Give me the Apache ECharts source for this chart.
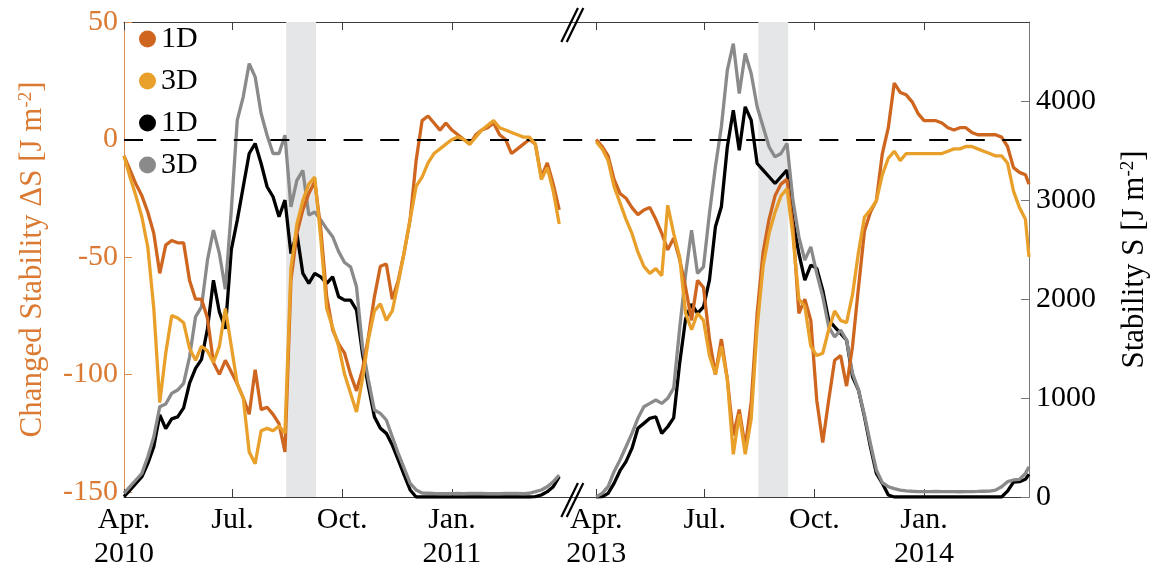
<!DOCTYPE html>
<html>
<head>
<meta charset="utf-8">
<script src="https://cdn.jsdelivr.net/npm/echarts@6/dist/echarts.min.js"></script>
<style>html,body{margin:0;padding:0;background:#fff}#chart{width:1158px;height:573px}</style>
</head>
<body>
<div id="chart"></div>
<script>
// ---------- data (days counted from 1 April of each panel's first year) ----------
const days2010 = [0,5,10,15,20,25,30,35,40,45,50,55,60,65,70,75,80,85,90,95,100,105,110,115,120,125,130,135,140,145,150,155,160,165,170,175,180,185,190,195,200,205,210,215,220,225,230,235,240,245,250,255,260,265,270,275,280,285,290,295,300,305,310,315,320,325,330,335,340,345,350,355,360,365];
const days2013 = [0,5,10,15,20,25,30,35,40,45,50,55,60,65,70,75,80,85,90,95,100,105,110,115,120,125,130,135,140,145,150,155,160,165,170,175,180,185,190,195,200,205,210,215,220,225,230,235,240,245,250,255,260,265,270,275,280,285,290,295,300,305,310,315,320,325,330,335,340,345,350,355,360,363];

// Changed stability dS [J m-2] (left axis)
const dS1D_2010 = [-7,-13,-19,-24,-31,-40,-57,-45,-43,-44, -44,-60,-68,-68,-76,-95,-100,-94,-99,-104, -110,-117,-98,-115,-114,-117,-121,-133,-60,-40, -30,-23,-18,-38,-67,-81,-87,-91,-100,-107, -98,-84,-67,-54,-53,-68,-60,-48,-34,-9, 8,10,7,4,7,4,2,0,-2,2, 4,5,7,2,0,-6,-4,-2,0,-2, -16,-10,-19,-30];
const dS3D_2010 = [-7,-16,-24,-33,-46,-72,-112,-91,-75,-76, -78,-89,-94,-88,-90,-95,-88,-72,-88,-104, -110,-133,-138,-124,-123,-124,-122,-125,-55,-36, -26,-19,-16,-42,-72,-80,-88,-100,-108,-116, -102,-85,-73,-70,-77,-73,-61,-48,-34,-20, -16,-10,-6,-4,-2,0,1,0,-2,1, 4,6,8,5,4,3,2,1,1,-2, -17,-12,-22,-36];
const dS1D_2013 = [0,-3,-7,-17,-23,-25,-29,-32,-30,-29, -34,-40,-47,-42,-51,-63,-77,-60,-63,-85, -100,-85,-102,-126,-115,-131,-112,-74,-48,-34, -24,-19,-17,-37,-74,-68,-77,-111,-129,-111, -94,-92,-105,-88,-63,-39,-31,-26,-6,5, 24,20,19,16,11,8,8,8,7,5, 4,5,5,3,2,2,2,2,1,-3, -12,-14,-15,-19];
const dS3D_2013 = [-1,-4,-9,-20,-27,-34,-40,-48,-54,-57, -55,-58,-28,-40,-50,-74,-81,-74,-77,-92, -100,-88,-102,-134,-117,-134,-119,-80,-54,-40, -31,-24,-21,-41,-68,-71,-88,-92,-91,-81, -73,-77,-78,-66,-48,-33,-30,-26,-15,-8, -5,-9,-6,-6,-6,-6,-6,-6,-6,-5, -4,-4,-3,-3,-4,-5,-6,-7,-7,-10, -22,-29,-34,-50];

// Stability S [J m-2] (right axis)
const S1D_2010 = [5,70,138,205,340,508,830,690,790,810, 900,1150,1300,1390,1700,2190,1870,1700,2500,2798, 3135,3471,3572,3370,3135,3034,2832,3000,2461,2663, 2259,2158,2259,2225,2158,2225,2024,1990,1990,1889, 1451,1114,811,694,643,525,374,222,71,0, 0,0,0,0,0,0,0,0,0,0, 0,0,0,0,0,0,0,0,0,3, 20,54,104,205];
const S3D_2010 = [37,104,172,239,407,609,912,940,1047,1081, 1148,1417,1821,1922,2394,2697,2461,2100,2900,3808, 4044,4380,4246,3875,3656,3471,3471,3656,2932,3200, 3300,2850,2880,2800,2710,2630,2480,2370,2326,2124, 1518,1182,879,845,778,609,441,289,138,71, 40,38,36,35,34,35,36,35,36,37, 36,35,34,35,36,37,36,35,38,54, 71,104,155,222];
const S1D_2013 = [0,3,37,138,266,357,491,694,744,795, 811,643,710,800,1350,1800,1950,1855,1922,2192, 2730,2933,3539,3909,3505,3943,3808,3370,3303,3236, 3168,3236,3303,2798,2461,2192,2343,2310,2091,1788, 1720,1653,1586,1215,1081,811,508,239,138,20, 0,0,0,0,0,0,0,0,0,0, 0,0,0,0,0,0,0,0,0,60, 151,155,180,230];
const S3D_2013 = [3,37,104,256,374,508,643,795,912,946, 980,946,997,1100,1700,2250,2697,2259,2326,2865, 3337,3741,4313,4582,4077,4481,4279,3943,3741,3539, 3437,3471,3572,3000,2629,2394,2528,2259,2024,1720, 1619,1687,1586,1249,1081,828,542,273,145,104, 84,70,62,58,55,54,55,56,55,54, 54,53,54,55,56,58,60,70,104,155, 172,178,239,306];

// shaded periods (days from 1 April), same in both years
const shadedPeriods = [[136, 161]];
// month ticks (days from 1 April) and their labels
const monthTickDays = [0, 91, 183, 275];
const tickLabels2010 = ['Apr.\n2010', 'Jul.', 'Oct.', 'Jan.\n2011'];
const tickLabels2013 = ['Apr.\n2013', 'Jul.', 'Oct.', 'Jan.\n2014'];
const leftTicks = [-150, -100, -50, 0, 50];
const rightTicks = [0, 1000, 2000, 3000, 4000];

// ---------- layout ----------
const PANEL2 = 396;      // axis position where the 2013 panel starts
const XMAX = 759;
const BREAK_AT = 376;
const FONT = '"Liberation Serif", "Times New Roman", serif';
const C1D = '#CF661F', C3D = '#E9A02A', CBK = '#000000', CGR = '#8A8A8A';
const ORANGE_TXT = '#DA7A33', ORANGE_AX = '#E08C4C';
const TICK_FS = 30, NAME_FS = 31;

const tickPos = monthTickDays.concat(monthTickDays.map(d => d + PANEL2));
const tickLab = tickLabels2010.concat(tickLabels2013);
const labelFor = v => { const i = tickPos.indexOf(v); return i >= 0 ? tickLab[i] : ''; };
const pairs = (days, vals, off) => days.map((d, i) => [d + off, vals[i]]);

function line(name, color, yIdx, days, vals, off, z) {
  return { name, type: 'line', xAxisIndex: 0, yAxisIndex: yIdx, data: pairs(days, vals, off),
    symbol: 'none', showSymbol: false, lineStyle: { color, width: 3.3 }, itemStyle: { color },
    z, silent: true, animation: false };
}

const bands = [];
shadedPeriods.forEach(([a, b]) => { bands.push([{ xAxis: a }, { xAxis: b }]); bands.push([{ xAxis: a + PANEL2 }, { xAxis: b + PANEL2 }]); });

const xAxisBase = (pos, showLabel) => ({
  type: 'value', min: 0, max: XMAX, position: pos,
  axisLine: { show: true, onZero: false, lineStyle: { color: '#3c3c3c', width: 1 } },
  axisTick: { show: true, inside: true, length: 8, customValues: tickPos, lineStyle: { color: '#3c3c3c', width: 1 } },
  axisLabel: { show: showLabel, customValues: tickPos, formatter: labelFor, fontFamily: FONT, fontSize: TICK_FS,
    color: '#000', lineHeight: 34, margin: 6 },
  splitLine: { show: false }
});

const option = {
  animation: false,
  backgroundColor: '#fff',
  grid: { left: 124, right: 129, top: 22, bottom: 76, containLabel: false, outerBoundsMode: 'none' },
  legend: {
    data: ['1D ΔS', '3D ΔS', '1D S', '3D S'],
    formatter: n => n.split(' ')[0],
    orient: 'vertical', left: 134, top: 19, icon: 'circle', itemWidth: 17, itemHeight: 17, itemGap: 12,
    textStyle: { fontFamily: FONT, fontSize: 30, lineHeight: 30, color: '#000' },
    selectedMode: false
  },
  xAxis: [xAxisBase('bottom', true), xAxisBase('top', false)],
  yAxis: [
    { type: 'value', min: -152.2, max: 50, position: 'left',
      axisLine: { show: true, onZero: false, lineStyle: { color: ORANGE_AX, width: 1 } },
      axisTick: { show: true, inside: true, length: 8, customValues: leftTicks, lineStyle: { color: ORANGE_AX } },
      axisLabel: { customValues: leftTicks, formatter: v => String(v), color: ORANGE_TXT, fontFamily: FONT, fontSize: TICK_FS, margin: 6 },
      splitLine: { show: false },
      name: 'Changed Stability ΔS [J m{sup|-2}]', nameLocation: 'middle', nameRotate: 90, nameGap: 76,
      nameTextStyle: { fontFamily: FONT, fontSize: NAME_FS, color: ORANGE_TXT,
        rich: { sup: { fontFamily: FONT, fontSize: 19, color: ORANGE_TXT, verticalAlign: 'top' } } } },
    { type: 'value', min: 0, max: 4800, position: 'right',
      axisLine: { show: true, onZero: false, lineStyle: { color: '#777', width: 1 } },
      axisTick: { show: true, inside: true, length: 8, customValues: rightTicks, lineStyle: { color: '#777' } },
      axisLabel: { customValues: rightTicks, formatter: v => String(v), color: '#000', fontFamily: FONT, fontSize: TICK_FS, margin: 7 },
      splitLine: { show: false },
      name: 'Stability S [J m{sup|-2}]', nameLocation: 'middle', nameRotate: 90, nameGap: 90,
      nameTextStyle: { fontFamily: FONT, fontSize: NAME_FS, color: '#000',
        rich: { sup: { fontFamily: FONT, fontSize: 19, color: '#000', verticalAlign: 'top' } } } }
  ],
  series: [
    { name: 'bands', type: 'line', xAxisIndex: 0, yAxisIndex: 0, data: [], z: 1, silent: true,
      markArea: { silent: true, itemStyle: { color: '#E4E6E7', opacity: 1 }, label: { show: false }, data: bands } },
    line('1D S', CBK, 1, days2010, S1D_2010, 0, 2),
    line('1D S', CBK, 1, days2013, S1D_2013, PANEL2, 2),
    line('3D S', CGR, 1, days2010, S3D_2010, 0, 3),
    line('3D S', CGR, 1, days2013, S3D_2013, PANEL2, 3),
    line('1D ΔS', C1D, 0, days2010, dS1D_2010, 0, 4),
    line('1D ΔS', C1D, 0, days2013, dS1D_2013, PANEL2, 4),
    line('3D ΔS', C3D, 0, days2010, dS3D_2010, 0, 5),
    line('3D ΔS', C3D, 0, days2013, dS3D_2013, PANEL2, 5),
    { name: 'zero', type: 'line', xAxisIndex: 0, yAxisIndex: 0, data: [], z: 6, silent: true,
      markLine: { silent: true, symbol: ['none', 'none'], label: { show: false },
        lineStyle: { color: '#000', width: 2, type: [19, 17.6] }, data: [{ yAxis: 0 }] } }
  ]
};

const chart = echarts.init(document.getElementById('chart'));
chart.setOption(option);

// axis-break marks "//" on the top and bottom frame lines
const xb = chart.convertToPixel({ xAxisIndex: 0 }, BREAK_AT);
const yTop = chart.convertToPixel({ yAxisIndex: 0 }, 50);
const yBot = chart.convertToPixel({ yAxisIndex: 0 }, -152.2);
const marks = [];
[yTop, yBot].forEach(y => {
  [-2.7, 2.7].forEach(dx => {
    marks.push({ type: 'line', z: 100, silent: true,
      shape: { x1: xb + dx - 8.3, y1: y + 3 + 17, x2: xb + dx + 8.3, y2: y + 3 - 17 },
      style: { stroke: '#000', lineWidth: 2.2 } });
  });
});
chart.setOption({ graphic: marks });
</script>
</body>
</html>
